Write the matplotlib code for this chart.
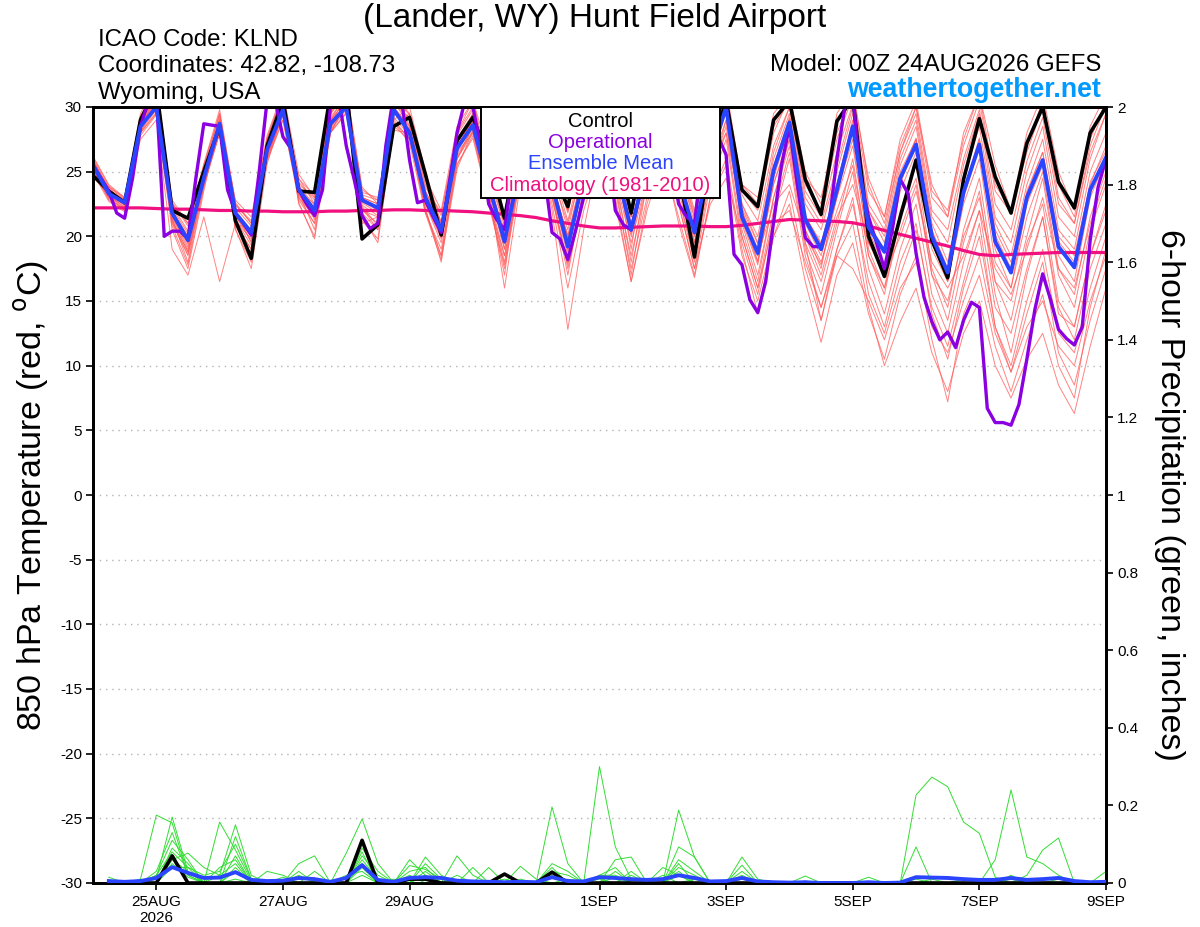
import numpy as np
import matplotlib
matplotlib.use("Agg")
import matplotlib.pyplot as plt
from matplotlib.patches import Rectangle

plt.rcParams['font.family'] = ['Liberation Sans', 'DejaVu Sans']

# ---------------- data ----------------
hours = np.arange(0, 385, 6)        # GEFS 6-hourly, from 00Z 24AUG2026
hours_op = np.arange(0, 385, 3)     # operational 3-hourly

control_t = [24.7,23.5,22.6,29.0,31.5,22.0,21.4,25.0,28.5,21.2,18.3,27.0,30.5,23.5,23.4,31.0,31.5,19.8,20.9,28.5,
             29.2,24.8,20.1,27.4,29.2,26.0,21.4,28.0,30.0,25.0,22.3,28.0,31.0,27.0,21.8,28.0,31.0,25.0,18.4,26.5,
             30.5,23.6,22.3,29.0,30.5,24.4,21.7,28.9,30.7,20.0,16.9,21.5,25.9,19.7,16.8,24.4,29.1,24.6,21.8,27.2,
             30.0,24.2,22.2,28.0,30.0]

mean_t = [25.5,23.3,22.6,28.5,30.0,21.8,19.7,24.5,28.7,21.8,20.3,26.7,29.8,23.6,22.0,28.7,30.0,22.8,22.2,29.8,
          28.0,23.0,20.5,26.8,28.6,24.0,19.6,25.5,28.5,24.0,19.2,24.5,28.5,25.5,20.5,25.5,28.5,24.5,20.3,26.0,
          30.0,21.5,18.7,25.1,28.8,21.3,19.0,23.6,28.5,20.7,18.8,24.5,27.1,20.0,17.2,23.4,27.1,19.6,17.2,23.0,
          25.9,19.2,17.6,23.6,26.1]

oper_t = [25.5,24.5,23.5,21.8,21.4,24.5,28.5,30.5,31.0,20.0,20.4,20.4,19.8,24.5,28.7,28.6,28.5,23.6,21.8,21.0,
          20.1,25.0,30.5,30.5,27.7,26.8,23.6,22.5,21.6,23.6,30.0,31.0,27.0,24.4,21.6,20.6,21.0,27.0,31.0,30.5,
          25.9,22.6,22.8,21.5,20.3,24.0,28.0,30.5,30.0,27.0,22.5,21.3,20.5,25.0,29.0,30.5,29.0,25.0,20.3,19.8,
          18.2,20.5,23.0,27.0,29.5,27.0,22.0,20.9,20.5,23.0,27.0,30.0,29.0,26.0,22.5,21.5,21.0,26.0,30.5,27.7,
          26.3,18.6,17.8,15.1,14.1,16.5,21.1,25.5,28.5,24.0,19.9,19.2,19.2,21.0,26.0,30.0,31.0,24.3,21.5,19.5,
          17.5,20.5,24.4,23.3,18.7,15.3,13.4,12.0,12.6,11.4,13.5,14.9,14.5,6.7,5.6,5.6,5.4,7.0,10.5,14.3,
          17.1,15.1,12.8,12.1,11.6,13.0,19.7,23.8,26.0]

climo_t = [22.2,22.2,22.2,22.2,22.15,22.1,22.1,22.05,22.0,22.0,21.95,21.95,21.9,21.9,21.9,21.95,21.95,22.0,22.0,22.05,
           22.05,22.0,22.0,21.95,21.9,21.8,21.7,21.6,21.45,21.2,21.0,20.8,20.65,20.65,20.7,20.75,20.8,20.8,20.8,20.75,
           20.75,20.85,21.0,21.15,21.3,21.25,21.2,21.15,21.05,20.8,20.45,20.15,19.85,19.55,19.25,18.9,18.6,18.5,18.6,18.65,
           18.7,18.75,18.75,18.75,18.75]

m01 = [25.0,23.8,22.8,29.5,32.0,22.5,21.0,25.5,29.5,22.0,19.5,27.5,31.0,24.0,23.0,31.0,32.0,21.0,21.5,29.0,30.0,25.0,21.0,28.0,30.5,26.5,21.5,28.5,31.5,25.5,22.0,28.5,31.5,27.0,21.5,28.5,31.5,25.5,19.5,27.0,31.0,24.0,22.5,29.5,31.0,25.0,22.5,29.5,31.5,24.0,21.0,26.5,30.0,24.0,21.5,28.0,31.0,25.5,22.0,28.0,31.0,25.0,22.0,28.5,31.0]
m02 = [25.8,23.0,22.0,28.0,30.5,21.0,18.5,24.0,28.0,21.0,19.0,26.0,29.5,23.0,21.5,28.0,30.5,22.0,21.0,29.5,28.5,22.5,19.5,26.0,28.5,23.0,18.0,25.0,28.5,23.5,17.5,23.0,27.5,24.0,18.5,24.0,27.0,22.5,17.5,24.0,27.5,19.5,15.5,21.5,26.0,18.5,14.5,19.0,23.0,15.5,12.5,17.0,20.5,14.5,11.5,16.5,21.0,13.0,9.5,14.0,18.0,11.0,8.5,13.5,17.5]
m03 = [26.0,23.5,22.5,28.8,31.0,21.5,19.0,25.0,29.0,21.5,20.0,27.0,30.0,23.5,22.0,29.0,31.0,23.0,22.0,30.0,28.5,23.0,20.5,27.0,29.0,24.0,19.0,26.0,29.5,24.5,19.0,24.5,29.0,25.0,20.0,25.0,28.5,23.0,18.5,25.5,29.0,21.0,17.0,23.0,27.5,19.5,13.5,18.5,21.0,14.5,10.0,13.4,16.0,11.0,8.0,12.5,15.0,10.0,7.5,10.5,12.5,8.5,6.3,11.5,16.0]
m04 = [25.2,22.8,22.0,28.0,29.5,20.5,17.5,23.5,29.0,20.5,18.0,26.5,30.5,22.5,20.0,28.5,31.0,21.5,19.5,28.5,29.5,22.0,18.5,26.5,29.5,23.0,17.0,26.0,30.0,23.5,18.5,25.5,30.0,26.0,19.0,26.5,29.5,24.0,19.0,26.5,30.5,22.0,18.5,25.0,29.0,21.0,18.5,23.0,28.5,20.5,17.5,24.0,27.5,19.5,16.5,23.0,27.0,19.0,16.0,22.5,25.5,18.5,16.5,23.0,26.0]
m05 = [26.2,24.0,23.0,29.0,31.5,22.0,20.0,25.0,29.5,22.5,21.0,27.5,30.5,24.5,22.5,29.5,31.5,23.0,22.5,30.5,29.0,23.5,21.0,27.5,29.5,24.5,20.0,26.5,29.5,25.0,20.5,26.0,30.0,26.0,21.5,27.0,30.5,25.5,21.0,27.5,31.0,22.5,19.5,26.0,29.5,22.5,20.5,25.0,29.5,22.0,19.5,25.5,28.5,21.0,18.0,24.5,28.5,21.0,18.5,24.0,27.5,20.5,19.0,25.0,28.0]
m06 = [25.5,23.2,22.2,27.5,29.0,19.0,17.0,21.5,16.5,21.0,20.5,26.0,29.0,23.0,21.0,28.0,29.5,22.0,21.5,28.5,27.5,22.5,20.0,26.0,28.0,23.5,19.0,25.0,28.0,23.0,18.0,23.5,28.0,24.5,19.5,24.5,27.5,23.5,19.0,24.5,29.0,20.5,16.5,23.0,27.0,19.5,16.5,21.0,26.0,18.5,15.5,21.5,24.5,17.0,13.5,19.5,23.5,15.5,11.0,17.0,21.5,14.5,12.0,17.5,21.0]
m07 = [24.8,23.0,22.5,28.2,30.5,21.5,19.5,24.0,28.0,21.5,20.5,26.0,29.5,23.5,22.5,28.5,30.0,23.0,22.5,29.0,27.5,23.5,21.0,26.5,28.0,24.0,20.5,25.5,28.0,24.0,20.0,24.5,28.5,25.5,21.0,25.5,28.0,24.5,20.5,26.0,30.0,22.0,19.0,25.5,29.0,21.5,19.5,24.0,29.0,21.0,19.0,25.0,27.5,20.5,17.5,23.5,27.5,20.5,18.0,23.5,26.5,20.0,18.5,24.0,27.0]
m08 = [25.6,23.6,22.8,28.6,30.2,21.2,18.8,24.2,28.4,21.6,19.6,26.4,29.6,23.2,21.6,28.4,30.4,22.4,21.6,29.6,28.2,22.6,19.8,26.2,28.4,23.6,16.0,24.0,28.0,22.0,12.8,20.5,26.5,23.0,16.5,22.5,26.5,21.0,16.8,23.0,26.0,19.0,14.0,20.0,22.5,16.5,11.8,17.0,19.5,14.0,10.5,15.5,18.5,12.0,7.2,14.0,17.0,11.5,8.0,12.0,15.5,10.0,7.5,14.5,19.0]
m09 = [25.4,23.4,22.4,28.4,30.8,22.2,20.2,24.8,28.8,22.2,20.8,26.8,30.2,23.8,22.2,29.2,30.8,23.2,22.8,30.4,28.6,23.4,21.2,27.2,29.2,24.6,20.8,26.2,29.2,24.6,21.0,25.5,29.5,26.0,21.0,26.0,29.5,25.0,21.5,26.5,30.5,22.5,20.0,26.5,30.0,23.0,21.0,25.5,30.0,22.0,20.0,26.0,29.0,21.5,19.5,25.5,29.5,21.5,19.5,25.0,28.5,21.5,20.0,26.0,29.5]
m10 = [25.9,23.7,22.6,28.9,30.6,21.6,19.2,24.6,29.2,21.2,19.8,27.2,30.8,23.6,21.8,29.4,31.2,22.6,21.8,29.8,28.0,22.8,20.2,26.8,29.0,23.8,19.4,25.8,29.0,24.2,19.6,24.8,29.2,25.2,20.2,25.8,29.2,24.2,20.0,26.2,30.2,21.2,17.8,24.5,28.5,20.5,17.5,23.5,27.5,19.0,16.0,22.0,25.5,17.5,14.5,20.5,24.5,16.5,13.5,19.5,22.5,15.0,13.0,18.5,22.5]
m11 = [24.6,23.2,22.9,29.2,31.2,22.8,21.0,25.2,29.0,22.8,21.5,27.8,31.2,24.8,23.0,30.0,31.5,23.8,22.5,30.8,29.5,24.5,22.0,28.5,30.5,25.5,21.5,27.5,30.5,26.0,22.0,27.5,31.0,27.0,22.0,28.0,31.0,26.5,22.0,28.5,31.5,24.0,23.0,28.5,30.5,24.5,23.0,28.0,31.0,24.5,21.5,27.5,30.5,23.5,22.0,27.5,31.0,24.0,22.0,27.0,30.5,24.0,21.5,27.5,30.5]
m12 = [25.3,22.9,22.1,28.1,29.8,21.4,18.0,24.4,28.2,21.4,18.5,26.2,29.4,23.4,20.5,28.2,29.8,22.2,20.5,29.2,27.8,22.2,18.0,26.0,28.2,23.2,18.5,25.2,28.4,23.6,18.8,24.2,28.0,24.6,18.0,24.8,28.8,23.8,19.5,25.0,28.5,21.5,18.0,24.0,28.0,20.5,18.0,22.0,25.5,18.5,16.0,20.5,24.0,17.0,15.0,20.0,23.0,16.5,15.0,20.0,24.5,17.0,14.5,20.5,24.0]
m13 = [25.7,23.5,22.7,28.7,30.4,21.9,19.9,24.9,28.9,21.9,20.4,26.9,29.9,23.9,22.4,28.9,30.2,22.9,22.2,29.9,28.2,23.2,20.8,27.0,28.8,24.2,20.0,25.8,28.8,24.3,19.8,25.2,28.8,25.3,20.8,25.6,28.6,24.6,20.5,25.5,28.0,21.8,18.5,22.5,24.0,20.0,17.0,21.5,24.0,19.5,17.0,20.0,23.5,18.0,16.0,18.5,22.0,17.5,15.5,19.0,23.0,17.5,16.0,21.0,24.5]
m14 = [26.1,23.9,22.9,29.1,31.0,22.4,20.4,25.4,29.4,22.4,21.2,27.4,30.4,24.4,23.2,29.6,31.0,23.4,23.0,30.2,29.2,23.8,21.8,27.8,29.8,24.8,21.0,26.8,29.8,25.4,21.2,26.2,29.8,26.4,21.8,26.8,30.2,25.8,21.8,27.2,30.8,23.2,21.2,27.0,30.0,23.5,21.5,26.5,30.2,22.5,20.5,26.5,29.5,22.0,20.5,26.0,29.8,22.5,20.5,25.8,29.2,22.5,21.0,26.5,29.5]
m15 = [25.1,23.1,22.3,28.3,30.3,21.3,18.8,24.3,28.3,21.3,19.3,26.3,29.3,23.3,21.3,28.3,30.1,22.3,20.8,28.8,27.6,22.0,18.5,25.5,27.8,22.8,17.5,24.5,27.5,22.5,16.0,22.0,26.0,22.5,16.5,22.0,26.0,21.5,17.0,23.0,25.5,18.5,15.0,20.0,23.5,17.5,13.5,19.0,22.5,16.5,13.0,18.0,21.0,14.0,10.5,16.0,20.0,13.0,10.0,15.0,19.0,12.5,11.0,16.0,20.0]
m16 = [25.6,23.3,22.4,28.6,30.9,21.9,19.4,24.4,28.6,21.9,20.1,26.6,29.9,23.6,21.9,28.9,30.6,22.9,22.1,29.6,28.1,23.1,20.6,26.9,28.9,24.1,20.1,26.1,29.1,24.1,20.1,25.1,29.1,25.6,20.6,25.6,29.1,24.6,20.1,26.1,29.6,21.6,18.1,24.1,27.5,20.0,17.8,23.0,27.0,19.5,17.5,23.5,26.5,19.0,16.5,22.5,26.0,18.0,16.0,21.5,25.0,17.5,15.5,21.5,25.0]
m17 = [25.3,23.1,22.1,28.0,29.6,21.1,18.6,23.8,28.0,20.8,19.0,25.8,29.0,22.8,21.0,28.0,29.6,21.8,20.5,28.8,27.2,21.8,19.0,25.6,27.6,22.6,18.5,24.5,27.8,23.0,17.8,23.5,27.0,23.5,17.5,23.0,26.8,22.5,17.5,22.5,24.5,20.0,16.0,21.0,22.0,18.0,14.5,18.5,17.5,15.0,12.0,16.0,18.0,13.0,11.0,15.0,18.5,12.5,9.5,13.0,15.0,11.5,10.0,15.0,18.5]
m18 = [25.8,23.8,23.0,29.3,31.4,22.6,20.8,25.6,29.8,22.6,21.0,27.6,31.0,24.2,22.8,29.8,31.4,23.6,22.8,30.6,29.4,24.0,21.6,28.0,30.0,25.2,21.2,27.2,30.2,25.8,21.8,27.0,30.5,26.5,21.5,27.5,30.8,26.0,21.5,28.0,31.2,23.5,22.0,28.0,30.8,24.0,22.0,27.5,30.8,23.5,21.5,27.0,30.0,23.0,21.5,27.0,30.5,23.5,21.8,26.5,30.0,23.0,21.0,27.0,30.2]
m19 = [24.9,22.7,21.9,27.8,29.4,20.8,17.8,23.8,28.6,20.6,17.5,25.6,29.6,22.6,19.8,28.0,30.2,21.2,19.8,28.2,28.0,21.8,18.2,25.2,28.2,22.4,17.8,25.0,28.6,23.2,17.0,23.8,28.2,24.0,17.0,24.2,28.2,23.0,18.0,24.5,28.0,20.0,16.0,22.0,26.5,19.0,15.5,20.5,25.0,17.5,14.0,19.0,22.5,15.5,12.5,18.0,22.0,14.5,12.5,17.5,21.5,14.0,13.0,18.5,22.0]
m20 = [25.5,23.4,22.6,28.5,30.7,22.0,19.8,24.7,28.7,21.7,20.2,26.7,30.1,23.7,22.1,29.0,30.5,22.7,22.0,30.0,28.3,23.3,20.4,26.9,28.7,24.1,19.9,25.7,28.7,24.0,19.9,25.0,28.9,25.4,20.4,25.4,28.9,24.4,20.6,26.4,30.1,22.2,19.4,25.4,29.2,21.6,19.4,24.1,28.7,21.0,18.7,24.6,27.6,20.4,17.2,23.6,27.6,20.1,17.5,23.3,26.5,19.6,18.0,24.2,26.6]
members_t = [m01, m02, m03, m04, m05, m06, m07, m08, m09, m10, m11, m12, m13, m14, m15, m16, m17, m18, m19, m20]

# 6-hour precipitation (inches), from 06Z 24AUG (hours 6..384)
control_p = [0,0,0,0,0.07,0,0,0,0,0,0,0,0,0,0,0,0.11,0,0,0.01,0.01,0,0,0,0,0.023,0,0,0.028,0,0,0,
             0,0,0,0,0,0,0,0,0,0,0,0,0,0,0,0,0,0,0,0,0,0,0,0,0,0,0,0,0,0,0,0]
mean_p = [0.005,0.003,0.005,0.013,0.041,0.026,0.013,0.014,0.028,0.008,0.005,0.006,0.013,0.01,0.003,0.013,0.046,0.008,0.003,0.013,
          0.015,0.013,0.006,0.004,0.003,0.002,0.003,0.002,0.015,0.005,0.004,0.015,0.013,0.01,0.008,0.01,0.02,0.013,0.004,0.005,
          0.013,0.004,0.002,0.001,0.002,0,0,0,0.002,0,0.001,0.015,0.014,0.013,0.01,0.008,0.008,0.013,0.008,0.01,
          0.013,0.005,0.002,0.003]
p01 = [0,0,0.01,0.175,0.155,0.02,0,0,0.01,0,0,0,0.02,0,0,0,0,0,0,0.06,0.02,0,0,0,0,0,0,0,0,0,0,0.30,0.093,0.01,0,0,0.02,0,0,0,0,0,0,0,0,0,0,0,0,0,0,0.227,0.273,0.248,0.157,0.128,0.015,0,0,0,0,0,0,0]
p02 = [0,0,0,0.01,0.17,0.03,0,0.157,0.085,0.005,0,0,0,0,0,0,0.02,0,0,0,0.067,0.02,0,0,0,0,0,0,0.196,0.05,0,0,0,0,0,0,0.093,0.067,0,0,0.02,0,0,0,0,0,0,0,0,0,0,0,0,0,0,0,0.06,0.24,0.067,0.05,0.02,0,0,0]
p03 = [0,0,0,0,0.06,0.077,0.04,0.02,0.15,0.02,0,0,0,0,0,0.077,0.165,0.05,0,0,0,0,0.07,0.02,0,0,0,0,0.04,0,0,0,0.06,0.067,0,0.02,0,0,0,0,0.067,0.01,0,0,0,0,0,0,0,0,0,0.093,0,0,0,0,0,0,0.02,0.085,0.116,0,0,0]
p04 = [0,0,0,0,0.09,0.05,0,0,0.04,0,0,0,0.05,0.07,0,0,0.07,0.02,0,0.03,0.04,0,0,0,0.04,0,0.043,0.01,0,0,0,0.02,0.02,0,0,0,0.188,0.067,0,0,0,0,0,0,0.018,0,0,0,0,0,0,0,0,0,0,0,0,0,0,0,0,0,0,0.03]
p05 = [0.015,0,0,0.02,0.11,0.06,0,0.04,0.06,0,0.03,0.02,0,0,0,0,0.09,0.03,0,0,0.03,0,0,0,0,0,0,0,0.03,0.02,0,0,0,0.03,0,0,0.05,0,0,0,0.046,0,0,0,0,0,0,0,0.015,0,0,0,0,0,0,0,0,0.02,0,0,0,0,0,0]
p06 = [0,0,0,0.02,0.08,0.04,0.02,0.03,0.1,0.01,0,0,0.03,0,0,0,0.06,0.01,0,0.045,0.035,0.01,0,0,0,0,0,0,0.05,0.03,0,0.02,0.04,0,0,0,0.04,0.02,0,0,0,0,0,0,0,0,0,0,0,0,0,0,0,0,0,0,0,0,0,0,0,0,0,0]
p07 = [0,0,0,0,0.06,0.03,0,0,0.07,0,0,0,0,0,0,0,0.04,0,0,0,0.02,0,0,0.04,0,0,0,0,0.02,0,0,0,0.03,0,0,0,0.03,0,0,0,0.03,0,0,0,0,0,0,0,0,0,0,0,0,0,0.01,0,0,0,0,0,0.01,0,0,0.005]
p08 = [0,0.005,0,0,0.05,0.015,0,0.02,0.05,0,0,0,0,0.03,0,0,0.05,0,0,0.02,0,0,0,0,0,0.01,0,0,0,0.01,0,0,0,0.02,0,0,0,0.01,0,0,0,0,0,0,0,0,0,0,0,0,0,0,0.01,0,0,0,0,0,0,0,0,0,0,0]
p09 = [0,0,0,0.03,0.13,0.02,0,0,0.03,0,0,0.015,0,0,0,0,0.08,0,0.01,0,0.05,0.01,0,0,0,0,0.01,0,0.015,0,0,0,0.015,0,0,0,0.06,0.03,0,0,0.01,0,0,0,0.005,0,0,0,0,0,0,0,0,0,0,0,0,0,0,0,0,0,0,0]
p10 = [0,0,0,0,0.04,0.04,0,0,0.12,0.01,0,0,0,0,0,0.02,0.03,0,0,0,0.02,0,0.02,0,0,0,0,0,0.025,0,0,0.01,0,0,0,0.04,0.02,0,0,0,0,0,0,0,0,0,0,0,0,0,0,0.01,0,0,0,0,0,0.01,0,0,0,0,0,0]
members_p = [p01, p02, p03, p04, p05, p06, p07, p08, p09, p10]

xtick_hours = [24, 72, 120, 192, 240, 288, 336, 384]
xtick_labels = ['25AUG\n2026', '27AUG', '29AUG', '1SEP', '3SEP', '5SEP', '7SEP', '9SEP']
temp_ticks = [-30, -25, -20, -15, -10, -5, 0, 5, 10, 15, 20, 25, 30]
prec_ticks = [0, 0.2, 0.4, 0.6, 0.8, 1.0, 1.2, 1.4, 1.6, 1.8, 2.0]
prec_labels = ['0', '0.2', '0.4', '0.6', '0.8', '1', '1.2', '1.4', '1.6', '1.8', '2']

# ---------------- colours ----------------
C_RED = '#ff5a5a'
C_GREEN = '#33dd33'
C_PURPLE = '#8a00e0'
C_BLUE = '#2a44ff'
C_PINK = '#f0107f'
C_WEB = '#0099ff'

W, H = 1200, 927
fig = plt.figure(figsize=(W / 100, H / 100), dpi=100)
L, R, T, B = 93, 1106, 107, 883
ax = fig.add_axes([L / W, 1 - B / H, (R - L) / W, (B - T) / H])
ax2 = ax.twinx()

# temperature
for m in members_t:
    ax.plot(hours, m, color=C_RED, lw=0.7, alpha=0.75, zorder=2)
ax.plot(hours, climo_t, color=C_PINK, lw=2.3, zorder=4, solid_joinstyle='round')
ax.plot(hours, control_t, color='black', lw=2.6, zorder=5)
ax.plot(hours_op, oper_t, color=C_PURPLE, lw=2.4, zorder=6)
ax.plot(hours, mean_t, color=C_BLUE, lw=2.8, zorder=7)

ax.set_xlim(0, 384)
ax.set_ylim(-30, 30)
ax.set_yticks(temp_ticks)
ax.set_yticklabels([str(t) for t in temp_ticks], fontsize=11)
for t in temp_ticks[1:-1]:
    ax.axhline(t, color='#b4b4b4', lw=1.0, ls=(0, (1, 3.5)), zorder=1)
ax.set_xticks(xtick_hours)
ax.set_xticklabels(xtick_labels, fontsize=11, linespacing=1.1)
ax.tick_params(axis='x', direction='out', length=5, width=1.2, pad=4)
ax.tick_params(axis='y', direction='out', length=5, width=1.2, pad=3)

# precipitation
ph = hours[1:]
for p in members_p:
    ax2.plot(ph, p, color=C_GREEN, lw=0.7, zorder=2)
ax2.plot(ph, control_p, color='black', lw=2.6, zorder=5)
ax2.plot(ph, mean_p, color=C_BLUE, lw=2.8, zorder=7)
ax2.set_ylim(0, 2)
ax2.set_xlim(0, 384)
ax2.set_yticks(prec_ticks)
ax2.set_yticklabels(prec_labels, fontsize=11)
ax2.tick_params(axis='y', direction='out', length=5, width=1.2, pad=3)

for a in (ax, ax2):
    for s in a.spines.values():
        s.set_linewidth(2.0)
        s.set_color('black')

# legend box
bx0 = (481 - L) / (R - L)
bx1 = (720 - L) / (R - L)
by0 = (B - 198) / (B - T)
ax2.add_patch(Rectangle((bx0, by0), bx1 - bx0, 1 - by0, transform=ax2.transAxes,
                        facecolor='white', edgecolor='black', lw=1.4, zorder=20, clip_on=False))
xc = (bx0 + bx1) / 2
leg_items = [('Control', 'black', 121), ('Operational', C_PURPLE, 142),
             ('Ensemble Mean', C_BLUE, 163), ('Climatology (1981-2010)', C_PINK, 185)]
for txt, col, yp in leg_items:
    ax2.text(xc, (B - yp) / (B - T), txt, color=col, fontsize=14.5, ha='center', va='center',
             transform=ax2.transAxes, zorder=21)

# header text
fig.text(595 / W, 1 - 19 / H, '(Lander, WY) Hunt Field Airport', fontsize=24, ha='center', va='center')
fig.text(98 / W, 1 - 40 / H, 'ICAO Code: KLND', fontsize=17.3, ha='left', va='center')
fig.text(98 / W, 1 - 66 / H, 'Coordinates: 42.82, -108.73', fontsize=17.3, ha='left', va='center')
fig.text(98 / W, 1 - 93 / H, 'Wyoming, USA', fontsize=17.3, ha='left', va='center')
fig.text(1101 / W, 1 - 65 / H, 'Model: 00Z 24AUG2026 GEFS', fontsize=17.3, ha='right', va='center')
fig.text(1101 / W, 1 - 90 / H, 'weathertogether.net', fontsize=19.3, fontweight='bold', color=C_WEB,
         ha='right', va='center')

fig.text(32 / W, 1 - 495 / H, '850 hPa Temperature (red, $^{\\rm o}$C)', fontsize=24.5, rotation=90,
         ha='center', va='center')
fig.text(1170 / W, 1 - 495 / H, '6-hour Precipitation (green, inches)', fontsize=24.5, rotation=270,
         ha='center', va='center')

fig.savefig('out.png', dpi=100)
